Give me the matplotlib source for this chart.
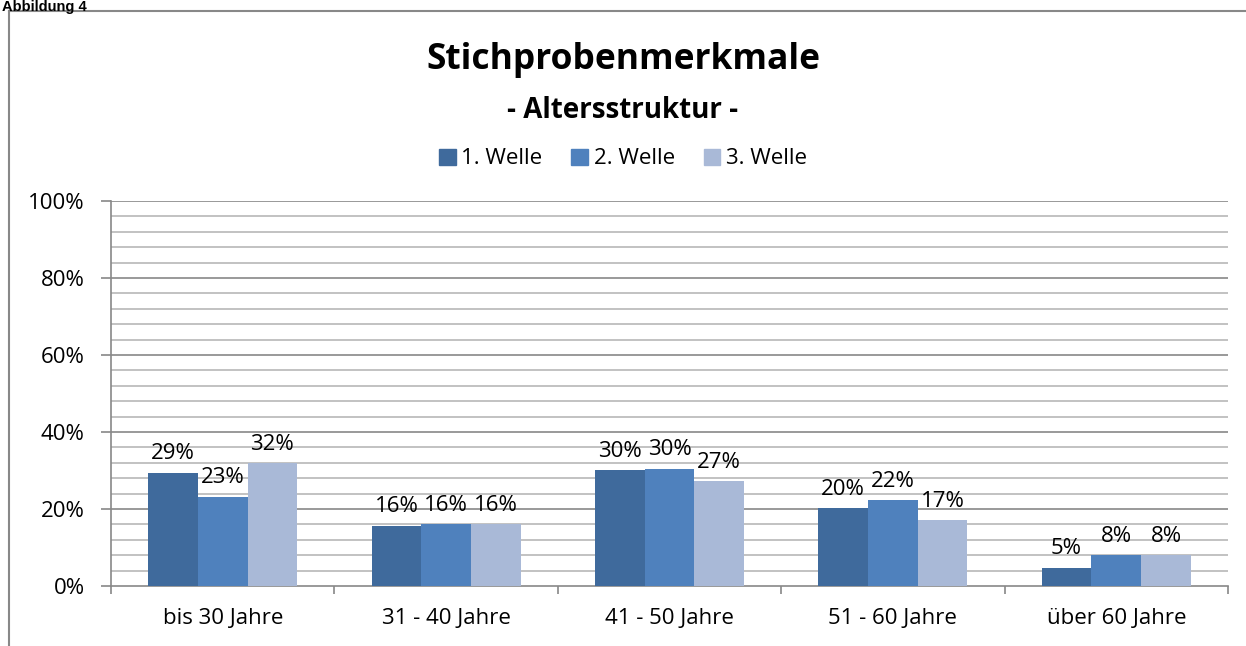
import numpy as np
import matplotlib.pyplot as plt
from matplotlib.lines import Line2D

# Daten
kategorien = ['bis 30 Jahre', '31 - 40 Jahre', '41 - 50 Jahre', '51 - 60 Jahre', 'über 60 Jahre']
welle1 = [29.4, 15.7, 30.1, 20.2, 4.7]
welle2 = [23.2, 16.1, 30.4, 22.3, 8.0]
welle3 = [31.9, 16.1, 27.2, 17.1, 8.0]
serien = ['1. Welle', '2. Welle', '3. Welle']
farben = ['#3F6A9C', '#4F81BD', '#A9B9D7']

plt.rcParams['font.family'] = ['Open Sans', 'DejaVu Sans']
fs = 16

fig = plt.figure(figsize=(12.46, 6.46), dpi=100)
ax = fig.add_axes([111/1246, 60/646, 1117/1246, 385/646])

x = np.arange(len(kategorien))
bw = 0.2225
werte = [welle1, welle2, welle3]
for i, (w, name, c) in enumerate(zip(werte, serien, farben)):
    pos = x + (i - 1) * bw
    ax.bar(pos, w, bw, color=c, label=name, zorder=3)
    for p, v in zip(pos, w):
        ax.text(p, v + 2.2, f'{round(v):.0f}%', ha='center', va='bottom',
                fontsize=fs, color='black', zorder=4)

ax.set_xlim(-0.5, len(kategorien) - 0.5)
ax.set_ylim(0, 100)

# Gitternetz
for y in np.arange(4, 100, 4):
    if y % 20 != 0:
        ax.axhline(y, color='#B8B8B8', lw=1.2, zorder=1)
for y in np.arange(20, 101, 20):
    ax.axhline(y, color='#888888', lw=1.2, zorder=1)

ax.set_yticks(np.arange(0, 101, 20))
ax.set_yticklabels([f'{v}%' for v in range(0, 101, 20)], fontsize=fs)
ax.set_xticks(np.arange(-0.5, len(kategorien)), minor=False)
ax.set_xticklabels([])
ax.set_xticks(x, minor=True)
ax.set_xticklabels(kategorien, minor=True, fontsize=fs)
ax.tick_params(axis='x', which='minor', length=0, pad=16)
ax.tick_params(axis='x', which='major', length=6, color='#888888', width=1.2)
ax.tick_params(axis='y', length=7, color='#888888', width=1.2, pad=12)

for s in ['top', 'right']:
    ax.spines[s].set_visible(False)
for s in ['left', 'bottom']:
    ax.spines[s].set_color('#888888')
    ax.spines[s].set_linewidth(1.2)

# Titel
fig.text(0.5, 1 - 60/646, 'Stichprobenmerkmale', ha='center', va='center',
         fontsize=25.5, fontweight='bold')
fig.text(0.5, 1 - 110/646, '- Altersstruktur -', ha='center', va='center',
         fontsize=20, fontweight='bold')

# Legende
handles = [plt.Rectangle((0, 0), 1, 1, color=c) for c in farben]
fig.legend(handles, serien, loc='center', bbox_to_anchor=(0.5, 1 - 159/646),
           ncol=3, frameon=False, fontsize=fs, handlelength=0.75,
           handleheight=0.75, handletextpad=0.25, columnspacing=1.3)

# Rahmen
fig.add_artist(Line2D([9/1246, 9/1246], [0, 1 - 11/646], color='#888888', lw=1.5))
fig.add_artist(Line2D([9/1246, 1], [1 - 11/646, 1 - 11/646], color='#888888', lw=1.5))
fig.text(2/1246, 1 - 11/646, 'Abbildung 4', ha='left', va='baseline',
         fontsize=10.5, fontweight='bold', family='Liberation Sans')

fig.savefig('out.png', dpi=100)
